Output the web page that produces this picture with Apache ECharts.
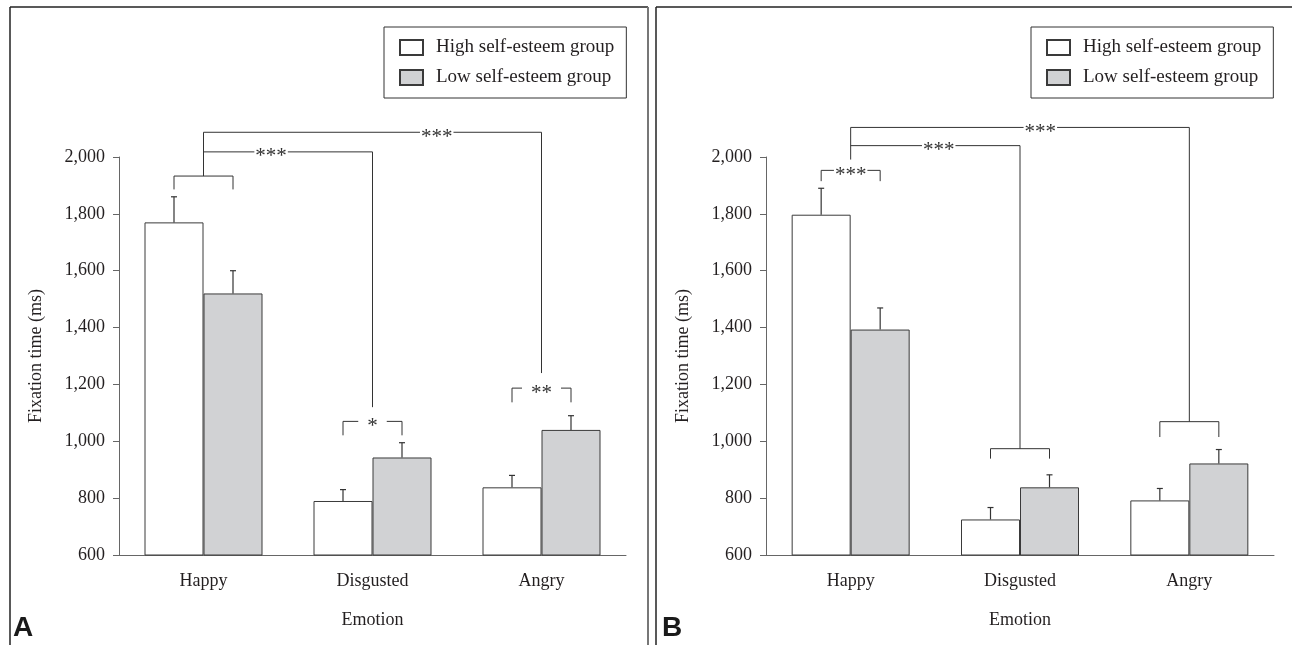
<!DOCTYPE html>
<html>
<head>
<meta charset="utf-8">
<script src="https://cdn.jsdelivr.net/npm/echarts@6/dist/echarts.min.js"></script>
<style>
  html, body { margin: 0; padding: 0; background: #fff; }
  #chart { width: 1292px; height: 645px; }
</style>
</head>
<body>
<div id="chart"></div>
<script>
// categories and group names
const emotions = ['Happy', 'Disgusted', 'Angry']
const groups = ['High self-esteem group', 'Low self-esteem group']

// y axis range (ms)
const yMin = 600
const yMax = 2000
const yStep = 200

// panel A: means and standard errors
const highA = [1770, 790, 838]
const highSeA = [90, 40, 42]
const lowA = [1520, 943, 1040]
const lowSeA = [80, 52, 50]

// panel B
const highB = [1797, 725, 792]
const highSeB = [93, 42, 42]
const lowB = [1393, 838, 922]
const lowSeB = [76, 44, 49]

// significance brackets: points are [category, side(-1 high / 0 centre / 1 low), value]
const bracketsA = [
  { pts: [[0, -1, 1886], [0, -1, 1933], [0, 1, 1933], [0, 1, 1886]] },
  { pts: [[0, 0, 1933], [0, 0, 2087], [2, 0, 2087], [2, 0, 1240]] },
  { pts: [[0, 0, 2018], [1, 0, 2018], [1, 0, 1120]] },
  { pts: [[1, -1, 1021], [1, -1, 1070], [1, 1, 1070], [1, 1, 1021]] },
  { pts: [[2, -1, 1137], [2, -1, 1187], [2, 1, 1187], [2, 1, 1137]] },
]
// labels: [category position, value, text]
const starsA = [
  [1.38, 2087, '***'],
  [0.40, 2018, '***'],
  [1, 1070, '*'],
  [2, 1187, '**'],
]

const bracketsB = [
  { pts: [[0, -1, 1915], [0, -1, 1953], [0, 1, 1953], [0, 1, 1915]] },
  { pts: [[0, 0, 1991], [0, 0, 2104], [2, 0, 2104], [2, 0, 1069]] },
  { pts: [[0, 0, 2040], [1, 0, 2040], [1, 0, 974]] },
  { pts: [[1, -1, 939], [1, -1, 974], [1, 1, 974], [1, 1, 939]] },
  { pts: [[2, -1, 1015], [2, -1, 1069], [2, 1, 1069], [2, 1, 1015]] },
]
const starsB = [
  [1.12, 2104, '***'],
  [0.52, 2040, '***'],
  [0, 1953, '***'],
]

const SERIF = '"Liberation Serif", "DejaVu Serif", serif'
const INK = '#231f20'
const BAR_W = 59

const chart = echarts.init(document.getElementById('chart'))

function errorSeries(idx, side, means, ses) {
  return {
    type: 'custom',
    xAxisIndex: idx,
    yAxisIndex: idx,
    silent: true,
    z: 5,
    data: means.map((m, i) => [i, m, m + ses[i]]),
    renderItem: (params, api) => {
      const a = api.coord([api.value(0), api.value(1)])
      const b = api.coord([api.value(0), api.value(2)])
      const x = a[0] + side * BAR_W / 2
      return {
        type: 'group',
        children: [
          { type: 'line', shape: { x1: x, y1: a[1], x2: x, y2: b[1] }, style: { stroke: '#333', lineWidth: 1.2 } },
          { type: 'line', shape: { x1: x - 3, y1: b[1], x2: x + 3, y2: b[1] }, style: { stroke: '#333', lineWidth: 1.2 } },
        ],
      }
    },
  }
}

function bracketSeries(idx, brackets, stars) {
  return {
    type: 'custom',
    xAxisIndex: idx,
    yAxisIndex: idx,
    silent: true,
    clip: false,
    z: 6,
    data: [[0, yMin]],
    renderItem: (params, api) => {
      const toPx = p => {
        const c = api.coord([p[0], p[2]])
        return [c[0] + p[1] * BAR_W / 2, c[1]]
      }
      const children = brackets.map(b => ({
        type: 'polyline',
        shape: { points: b.pts.map(toPx) },
        style: { stroke: '#333', lineWidth: 1, fill: 'none' },
      }))
      stars.forEach(s => {
        const c0 = api.coord([0, s[1]])
        const c1 = api.coord([1, s[1]])
        const x = c0[0] + (c1[0] - c0[0]) * s[0]
        const wide = s[2].length < 3
        children.push({
          type: 'text',
          x: x,
          y: c0[1] + 5,
          z2: 10,
          style: {
            text: s[2],
            fill: '#333',
            font: '21px ' + SERIF,
            align: 'center',
            verticalAlign: 'middle',
            backgroundColor: '#fff',
            padding: wide ? [0, 9, 0, 9] : [0, 1, 0, 1],
          },
        })
      })
      return { type: 'group', children }
    },
  }
}

function barSeries(idx, name, values, color) {
  return {
    name: name,
    type: 'bar',
    xAxisIndex: idx,
    yAxisIndex: idx,
    barWidth: BAR_W,
    barGap: '0%',
    itemStyle: { color: color, borderColor: '#3a3a3a', borderWidth: 1 },
    data: values,
  }
}

function xAxis(idx) {
  return {
    type: 'category',
    gridIndex: idx,
    data: emotions,
    name: 'Emotion',
    nameLocation: 'middle',
    nameGap: 56,
    nameTextStyle: { color: INK, fontSize: 18, fontFamily: SERIF },
    axisTick: { show: false },
    axisLine: { lineStyle: { color: '#666', width: 1 } },
    axisLabel: { color: INK, fontSize: 18, fontFamily: SERIF, margin: 17 },
  }
}

function yAxis(idx) {
  return {
    type: 'value',
    gridIndex: idx,
    min: yMin,
    max: yMax,
    interval: yStep,
    name: 'Fixation time (ms)',
    nameLocation: 'middle',
    nameGap: 74,
    nameTextStyle: { color: INK, fontSize: 18, fontFamily: SERIF },
    splitLine: { show: false },
    axisLine: { show: true, lineStyle: { color: '#666', width: 1 } },
    axisTick: { show: true, length: 6, lineStyle: { color: '#666' } },
    axisLabel: {
      color: INK,
      fontSize: 18,
      fontFamily: SERIF,
      margin: 14,
      formatter: v => v.toLocaleString('en-US'),
    },
  }
}

function legend(left) {
  return {
    data: groups,
    orient: 'vertical',
    icon: 'rect',
    left: left,
    top: 27,
    padding: [11, 12, 11, 15],
    itemGap: 11,
    itemWidth: 23,
    itemHeight: 15,
    borderColor: '#333',
    borderWidth: 1,
    selectedMode: false,
    textStyle: { color: INK, fontSize: 19, fontFamily: SERIF, padding: [0, 0, 0, 8] },
  }
}

const option = {
  backgroundColor: '#fff',
  animation: false,
  legend: [legend(384), legend(1031)],
  grid: [
    { left: 119, width: 507, top: 157, bottom: 90 },
    { left: 766, width: 508, top: 157, bottom: 90 },
  ],
  xAxis: [xAxis(0), xAxis(1)],
  yAxis: [yAxis(0), yAxis(1)],
  graphic: [
    // panel frames
    { type: 'line', shape: { x1: 10, y1: 7, x2: 10, y2: 645 }, style: { stroke: '#222', lineWidth: 1.5 } },
    { type: 'line', shape: { x1: 10, y1: 7, x2: 648, y2: 7 }, style: { stroke: '#222', lineWidth: 1.5 } },
    { type: 'line', shape: { x1: 648, y1: 7, x2: 648, y2: 645 }, style: { stroke: '#777', lineWidth: 2 } },
    { type: 'line', shape: { x1: 656, y1: 7, x2: 656, y2: 645 }, style: { stroke: '#222', lineWidth: 1.5 } },
    { type: 'line', shape: { x1: 656, y1: 7, x2: 1292, y2: 7 }, style: { stroke: '#222', lineWidth: 1.5 } },
    {
      type: 'text', left: 13, top: 614,
      style: { text: 'A', fill: '#1a1a1a', font: 'bold 28px "Liberation Sans", Arial, sans-serif' },
    },
    {
      type: 'text', left: 662, top: 614,
      style: { text: 'B', fill: '#1a1a1a', font: 'bold 28px "Liberation Sans", Arial, sans-serif' },
    },
  ],
  series: [
    barSeries(0, groups[0], highA, '#ffffff'),
    barSeries(0, groups[1], lowA, '#d1d2d4'),
    errorSeries(0, -1, highA, highSeA),
    errorSeries(0, 1, lowA, lowSeA),
    bracketSeries(0, bracketsA, starsA),
    barSeries(1, groups[0], highB, '#ffffff'),
    barSeries(1, groups[1], lowB, '#d1d2d4'),
    errorSeries(1, -1, highB, highSeB),
    errorSeries(1, 1, lowB, lowSeB),
    bracketSeries(1, bracketsB, starsB),
  ],
}

chart.setOption(option)
</script>
</body>
</html>
